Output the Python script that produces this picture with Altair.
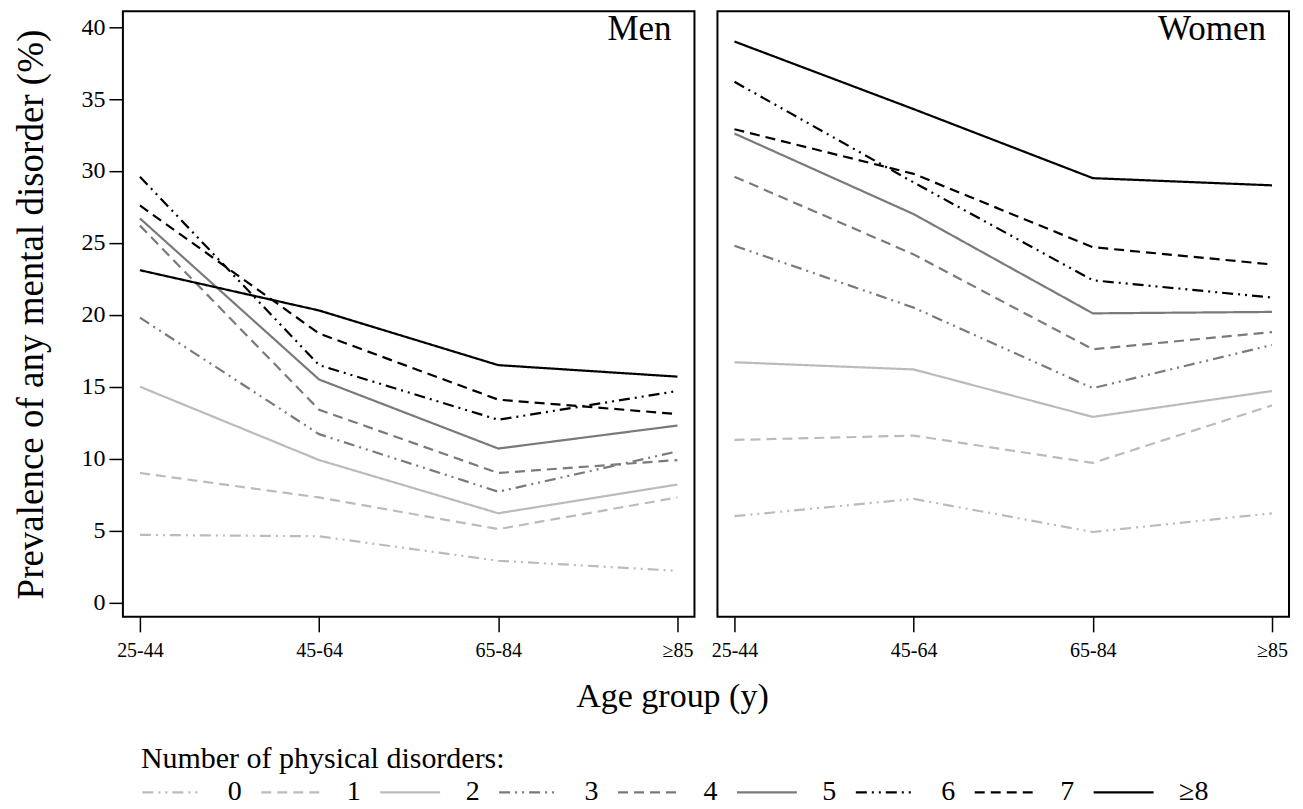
import altair as alt
import pandas as pd

ages = ["25-44", "45-64", "65-84", "≥85"]
categories = ["0", "1", "2", "3", "4", "5", "6", "7", "≥8"]

# Men: prevalence (%) by age group, per number of physical disorders
men_0 = [4.7, 4.6, 2.9, 2.2]
men_1 = [9.0, 7.3, 5.1, 7.3]
men_2 = [15.0, 9.9, 6.2, 8.2]
men_3 = [19.8, 11.7, 7.7, 10.5]
men_4 = [26.2, 13.4, 9.0, 9.9]
men_5 = [26.7, 15.5, 10.7, 12.3]
men_6 = [29.6, 16.5, 12.7, 14.7]
men_7 = [27.6, 18.7, 14.1, 13.1]
men_8 = [23.1, 20.3, 16.5, 15.7]

# Women
women_0 = [6.0, 7.2, 4.9, 6.2]
women_1 = [11.3, 11.6, 9.7, 13.7]
women_2 = [16.7, 16.2, 12.9, 14.7]
women_3 = [24.8, 20.5, 14.9, 17.9]
women_4 = [29.6, 24.2, 17.6, 18.8]
women_5 = [32.6, 27.0, 20.1, 20.2]
women_6 = [36.2, 29.2, 22.4, 21.2]
women_7 = [32.9, 29.8, 24.7, 23.5]
women_8 = [39.0, 34.3, 29.5, 29.0]

men_series = [men_0, men_1, men_2, men_3, men_4, men_5, men_6, men_7, men_8]
women_series = [women_0, women_1, women_2, women_3, women_4, women_5, women_6, women_7, women_8]

LIGHT = "#bbbbbb"
MID = "#7a7a7a"
DARK = "#000000"
colors = [LIGHT, LIGHT, LIGHT, MID, MID, MID, DARK, DARK, DARK]
DASHDOT = [11, 5, 2, 5, 2, 5]
DASH = [10, 6]
SOLID = [1, 0]
dashes = [DASHDOT, DASH, SOLID] * 3

FONT = "Liberation Serif"
W, H = 572, 606


def make_df(series):
    rows = []
    for cat, vals in zip(categories, series):
        for a, v in zip(ages, vals):
            rows.append({"age": a, "cat": cat, "value": v})
    return pd.DataFrame(rows)


legend = alt.Legend(
    title="Number of physical disorders:",
    orient="none",
    legendX=18,
    legendY=733,
    direction="horizontal",
    columns=9,
    symbolType="stroke",
    symbolSize=3600,
    symbolStrokeWidth=2.2,
    labelFont=FONT,
    labelFontSize=28,
    labelColor="black",
    labelOffset=24,
    labelLimit=200,
    columnPadding=15,
    titleFont=FONT,
    titleFontSize=30,
    titleFontWeight="normal",
    titleColor="black",
    titleLimit=800,
    titlePadding=-13,
    padding=0,
)


def panel(series, label, first):
    df = make_df(series)
    if first:
        xaxis = alt.Axis(
            title="Age group (y)", titleX=549.5, titleAlign="center",
            titleFont=FONT, titleFontSize=34, titleFontWeight="normal", titleColor="black",
            titlePadding=19,
            labelFont=FONT, labelFontSize=20, labelColor="black", labelAngle=0, labelPadding=9,
            tickSize=15, tickWidth=1.5, tickColor="black", domain=False, grid=False,
        )
        yaxis = alt.Axis(
            title="Prevalence of any mental disorder (%)", values=list(range(0, 41, 5)),
            titleFont=FONT, titleFontSize=37, titleFontWeight="normal", titleColor="black",
            titlePadding=30,
            labelFont=FONT, labelFontSize=24, labelColor="black", labelPadding=4,
            tickSize=14, tickWidth=1.5, tickColor="black", domain=False, grid=False,
        )
    else:
        xaxis = alt.Axis(
            title=None,
            labelFont=FONT, labelFontSize=20, labelColor="black", labelAngle=0, labelPadding=9,
            tickSize=15, tickWidth=1.5, tickColor="black", domain=False, grid=False,
        )
        yaxis = None
    lines = alt.Chart(df).mark_line(strokeWidth=2.2).encode(
        x=alt.X("age:N", sort=ages, scale=alt.Scale(type="point", padding=0.095), axis=xaxis),
        y=alt.Y("value:Q", scale=alt.Scale(domain=[-1.0, 41.1], nice=False, zero=False), axis=yaxis),
        color=alt.Color("cat:N", sort=categories,
                        scale=alt.Scale(domain=categories, range=colors), legend=legend),
        strokeDash=alt.StrokeDash("cat:N", sort=categories,
                                  scale=alt.Scale(domain=categories, range=dashes), legend=legend),
    )
    txt = alt.Chart(pd.DataFrame({"label": [label]})).mark_text(
        align="right", baseline="alphabetic", font=FONT, fontSize=35, color="black"
    ).encode(x=alt.value(W - 23), y=alt.value(29), text="label:N")
    return alt.layer(lines, txt).properties(width=W, height=H)


chart = alt.hconcat(
    panel(men_series, "Men", True),
    panel(women_series, "Women", False),
    spacing=23,
).properties(
    bounds="flush",
    padding={"left": 4, "top": 2, "right": 5, "bottom": 0},
).configure(
    font=FONT
).configure_axis(
    labelFont=FONT, titleFont=FONT
).configure_legend(
    labelFont=FONT, titleFont=FONT
).configure_view(stroke="black", strokeWidth=2)

chart.save("out.html", embed_options={"renderer": "svg", "actions": False})
